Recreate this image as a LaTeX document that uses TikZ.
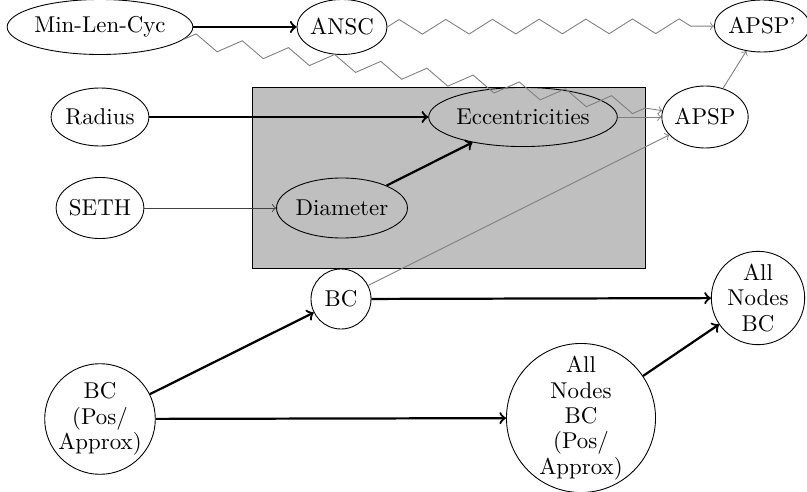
\documentclass[tikz,border=0pt]{standalone}
\usetikzlibrary{decorations.pathmorphing,shapes.geometric}
\begin{document}
\begin{tikzpicture}[x=0.45pt,y=-0.45pt,
  every node/.style={font=\fontsize{10.3}{11.4}\selectfont, inner sep=0pt},
  ell/.style={draw, ellipse},
  circ/.style={draw, circle, align=center},
  strong/.style={->, line width=1pt},
  weak/.style={->, gray},
  zz/.style={->, gray, decorate, decoration={zigzag, segment length=21pt, amplitude=3.3pt, post length=4pt}}]
\useasboundingbox (0,0) rectangle (807,492);
\draw[fill=lightgray] (252,87) rectangle (645,268);
\node[ell, minimum width=82.8pt, minimum height=24.75pt] (mlc) at (100,27) {Min-Len-Cyc};
\node[ell, minimum width=40.5pt, minimum height=24.75pt] (ansc) at (342,27) {ANSC};
\node[ell, minimum width=40pt, minimum height=23.4pt] (apspp) at (762,26) {APSP'};
\node[ell, minimum width=43.6pt, minimum height=26.1pt] (radius) at (100,117) {Radius};
\node[ell, minimum width=84.2pt, minimum height=26.6pt] (ecc) at (523,117) {Eccentricities};
\node[ell, minimum width=37.8pt, minimum height=27.9pt] (apsp) at (705,117) {APSP};
\node[ell, minimum width=38.7pt, minimum height=27.5pt] (seth) at (100,208) {SETH};
\node[ell, minimum width=58.5pt, minimum height=27pt] (diam) at (342,208) {Diameter};
\node[circ, minimum size=27pt] (bc) at (341,299) {BC};
\node[circ, minimum size=42pt] (allbc) at (758,298) {All\\Nodes\\BC};
\node[circ, minimum size=65pt] (allbcpos) at (581,418) {All\\Nodes\\BC\\(Pos/\\Approx)};
\node[circ, minimum size=47pt] (bcpos) at (100,419) {BC\\(Pos/\\Approx)};

\draw[strong] (mlc) -- (ansc);
\draw[zz] (ansc) -- (apspp);
\draw[zz] (mlc) -- (apsp);
\draw[strong] (radius) -- (ecc);
\draw[weak] (ecc) -- (apsp);
\draw[weak] (apsp) -- (apspp);
\draw[->, black!75] (seth) -- (diam);
\draw[strong] (diam) -- (ecc);
\draw[weak] (bc) -- (apsp);
\draw[strong] (bc) -- (allbc);
\draw[strong] (bcpos) -- (bc);
\draw[strong] (bcpos) -- (allbcpos);
\draw[strong] (allbcpos) -- (allbc);
\end{tikzpicture}
\end{document}
